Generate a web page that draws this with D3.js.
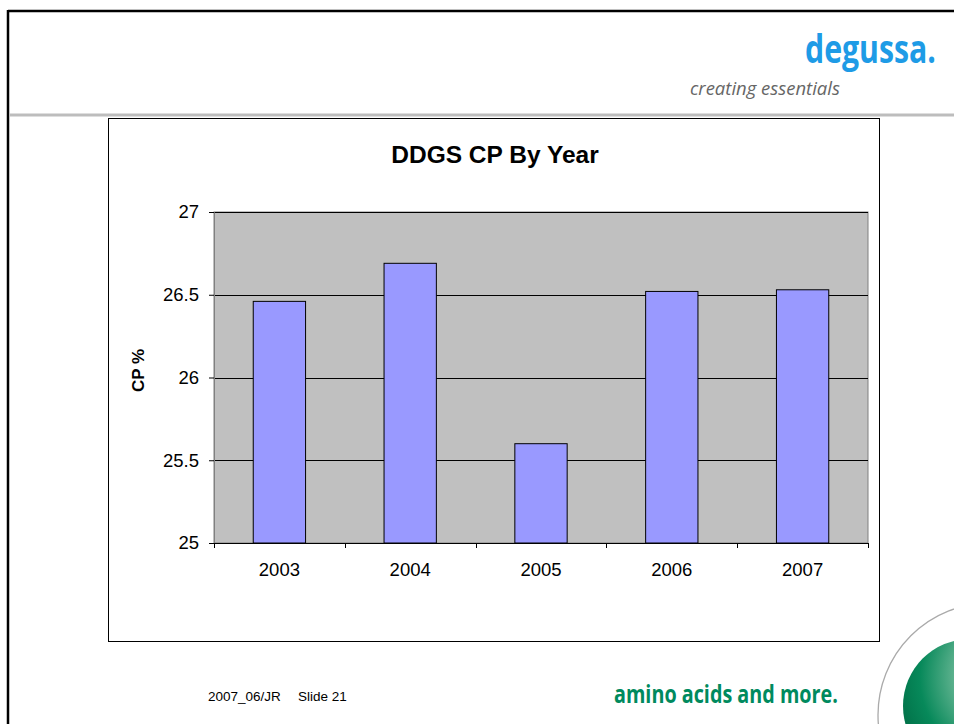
<!DOCTYPE html>
<html>
<head>
<meta charset="utf-8">
<script src="https://cdn.jsdelivr.net/npm/d3@7"></script>
<style>
  html, body { margin: 0; padding: 0; background: #fff; }
  svg { display: block; }
</style>
</head>
<body>
<svg id="slide" width="954" height="724"></svg>
<script>
// Crude protein of DDGS by year
const years = ["2003", "2004", "2005", "2006", "2007"];
const cpValues = [26.46, 26.69, 25.60, 26.52, 26.53];
const yTicks = [25, 25.5, 26, 26.5, 27];

const svg = d3.select("#slide");

// Slide frame
svg.append("line").attr("x1", 8).attr("x2", 954).attr("y1", 11).attr("y2", 11)
  .attr("stroke", "#000").attr("stroke-width", 2.5);
svg.append("line").attr("x1", 8).attr("x2", 8).attr("y1", 10).attr("y2", 724)
  .attr("stroke", "#000").attr("stroke-width", 2.5);
svg.append("line").attr("x1", 9).attr("x2", 954).attr("y1", 115).attr("y2", 115)
  .attr("stroke", "#bdbdbd").attr("stroke-width", 3);

// Condensed brand text: squeeze horizontally to a target width
function condensed(xPos, yPos, width, attrs, label) {
  const g = svg.append("g");
  const t = g.append("text").attr("x", 0).attr("y", 0).text(label);
  Object.entries(attrs).forEach(([k, v]) => t.attr(k, v));
  const natural = t.node().getComputedTextLength();
  g.attr("transform", `translate(${xPos},${yPos}) scale(${width / natural},1)`);
  return t;
}

// Header brand
condensed(805, 63, 131, {
  "font-family": "'Open Sans', sans-serif", "font-weight": 700,
  "font-size": 40, "fill": "#1e9be6"
}, "degussa.");
condensed(690, 95, 150, {
  "font-family": "'Open Sans', sans-serif", "font-style": "italic",
  "font-size": 19, "fill": "#666"
}, "creating essentials");

// Decorative sphere
const defs = svg.append("defs");
const grad = defs.append("radialGradient").attr("id", "sphere")
  .attr("cx", "0.75").attr("cy", "0.3").attr("r", "0.85").attr("fx", "0.8").attr("fy", "0.25");
grad.append("stop").attr("offset", "0%").attr("stop-color", "#f2f8f5");
grad.append("stop").attr("offset", "35%").attr("stop-color", "#7fc1a2");
grad.append("stop").attr("offset", "75%").attr("stop-color", "#07895a");
grad.append("stop").attr("offset", "100%").attr("stop-color", "#006d45");
svg.append("circle").attr("cx", 990).attr("cy", 715).attr("r", 112)
  .attr("fill", "none").attr("stroke", "#aaa").attr("stroke-width", 1.3);
svg.append("circle").attr("cx", 970).attr("cy", 706).attr("r", 67)
  .attr("fill", "url(#sphere)");

// Footer
const font = "Arial, 'Liberation Sans', sans-serif";
svg.append("text").attr("x", 208).attr("y", 701)
  .attr("font-family", font).attr("font-size", 13.5)
  .attr("fill", "#000").text("2007_06/JR");
svg.append("text").attr("x", 298).attr("y", 701)
  .attr("font-family", font).attr("font-size", 13.5)
  .attr("fill", "#000").text("Slide 21");
condensed(614, 703, 224, {
  "font-family": "'Open Sans', sans-serif", "font-weight": 700,
  "font-size": 25, "fill": "#008a5e"
}, "amino acids and more.");

// Chart area
svg.append("rect").attr("x", 108.5).attr("y", 118.5).attr("width", 771).attr("height", 523)
  .attr("fill", "#fff").attr("stroke", "#000").attr("stroke-width", 1);

const plot = { left: 214, right: 868, top: 212, bottom: 543 };
const x = d3.scaleBand().domain(years).range([plot.left, plot.right]).paddingInner(0).paddingOuter(0);
const y = d3.scaleLinear().domain([25, 27]).range([plot.bottom, plot.top]);

svg.append("text").attr("x", 495).attr("y", 163).attr("text-anchor", "middle")
  .attr("font-family", font).attr("font-weight", 700).attr("font-size", 24.5)
  .text("DDGS CP By Year");

svg.append("rect").attr("x", plot.left).attr("y", plot.top)
  .attr("width", plot.right - plot.left).attr("height", plot.bottom - plot.top)
  .attr("fill", "#c0c0c0").attr("stroke", "#808080").attr("stroke-width", 1);

// Gridlines
svg.append("g").selectAll("line").data(yTicks.filter(t => t > 25)).join("line")
  .attr("x1", plot.left).attr("x2", plot.right)
  .attr("y1", d => Math.round(y(d)) + 0.5).attr("y2", d => Math.round(y(d)) + 0.5)
  .attr("stroke", "#000").attr("stroke-width", 1);

// Bars
const barW = x.bandwidth() / 2.5;
svg.append("g").selectAll("rect").data(years).join("rect")
  .attr("x", d => x(d) + (x.bandwidth() - barW) / 2)
  .attr("y", (d, i) => y(cpValues[i]))
  .attr("width", barW)
  .attr("height", (d, i) => plot.bottom - y(cpValues[i]))
  .attr("fill", "#9999ff").attr("stroke", "#000").attr("stroke-width", 1);

// Y axis
const yAxis = svg.append("g").attr("transform", `translate(${plot.left},0)`)
  .call(d3.axisLeft(y).tickValues(yTicks).tickSize(5).tickPadding(10)
    .tickFormat(d3.format("~g")));
yAxis.select(".domain").attr("stroke", "#808080");
yAxis.selectAll(".tick line").attr("stroke", "#000");
yAxis.selectAll("text").attr("font-family", font).attr("font-size", 18.5).attr("fill", "#000");

// X axis with ticks at category boundaries
const xAxis = svg.append("g").attr("transform", `translate(0,${plot.bottom})`)
  .call(d3.axisBottom(x).tickSize(0).tickPadding(20));
xAxis.select(".domain").attr("stroke", "#000");
xAxis.selectAll("text").attr("font-family", font).attr("font-size", 18.5).attr("fill", "#000");
const bounds = years.map(d => x(d)).concat([plot.right]);
xAxis.selectAll(".bound").data(bounds).join("line").attr("class", "bound")
  .attr("x1", d => Math.round(d) + 0.5).attr("x2", d => Math.round(d) + 0.5)
  .attr("y1", 0).attr("y2", 5).attr("stroke", "#000");

// Y axis title
svg.append("text")
  .attr("transform", `translate(144,${(plot.top + plot.bottom) / 2 - 7}) rotate(-90)`)
  .attr("text-anchor", "middle")
  .attr("font-family", font).attr("font-weight", 700).attr("font-size", 17)
  .text("CP %");
</script>
</body>
</html>
